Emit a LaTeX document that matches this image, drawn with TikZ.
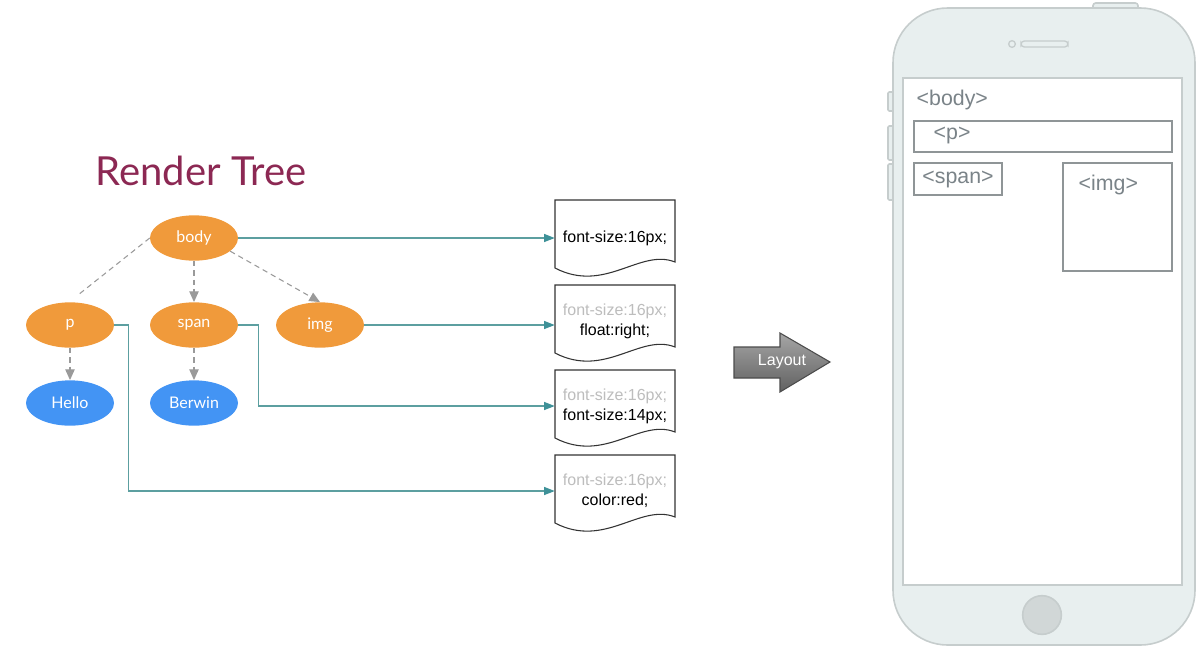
\documentclass[tikz,border=0pt]{standalone}
\usepackage{fontspec}
\setmainfont{Liberation Sans}
\newfontfamily\treefont{Lato}
\usepackage{tikz}
\usetikzlibrary{shapes.geometric, arrows.meta, positioning}
\definecolor{colorNode}{HTML}{F09A3B}
\definecolor{colorLeaf}{HTML}{4394F4}
\definecolor{colorTitle}{HTML}{8C2853}
\definecolor{colorLink}{HTML}{5C9FA0}
\definecolor{colorLinkTip}{HTML}{3E9198}
\definecolor{colorDash}{HTML}{9A9A9A}
\definecolor{colorPhone}{HTML}{E8EFEF}
\definecolor{colorPhoneLine}{HTML}{C6CDCD}
\definecolor{colorBox}{HTML}{8F9597}
\definecolor{colorBoxText}{HTML}{7A8388}
\definecolor{colorFaded}{HTML}{BDBDBD}

\begin{document}
\begin{tikzpicture}[x=0.75pt,y=-0.75pt,
    treenode/.style={ellipse,fill=colorNode,minimum width=66pt,minimum height=34pt,inner sep=0pt,text=white,font=\treefont\fontsize{12}{14}\selectfont},
    leaf/.style={treenode,fill=colorLeaf},
    dashlink/.style={colorDash,dash pattern=on 4pt off 3pt,line width=0.8pt},
    dashtip/.style={dashlink,-{Triangle[length=8pt,width=7pt]}},
    link/.style={colorLink,line width=1pt,-{Triangle[length=8pt,width=6pt,color=colorLinkTip]}},
    doctext/.style={minimum width=90pt,inner sep=0pt,align=center,font=\fontsize{12}{15}\selectfont},
    docline/.style={draw=black!80,line width=0.8pt,fill=white},
    phone/.style={colorPhoneLine,fill=colorPhone,line width=1.2pt},
    screenbox/.style={colorBox,line width=1pt},
    boxtext/.style={text=colorBoxText,font=\fontsize{16}{19}\selectfont}]
    \useasboundingbox (0,0) rectangle (1202,658);

    % render tree
    \node[text=colorTitle,font=\treefont\fontsize{30}{34}\selectfont] (title) at (201,171) {Render Tree};
    \node[treenode] (body) at (194,238) {body};
    \node[treenode] (p) at (70,325) {p};
    \node[treenode] (span) at (194,325) {span};
    \node[treenode] (img) at (320,325) {img};
    \node[leaf] (hello) at (70,403) {Hello};
    \node[leaf] (berwin) at (194,403) {Berwin};
    \coordinate (pend) at (78,295);

    \draw[dashlink] (body.west) -- (pend);
    \draw[dashtip] (body.south) -- (span.north);
    \draw[dashtip] (body.-20) -- (img.north);
    \draw[dashtip] (p.south) -- (hello.north);
    \draw[dashtip] (span.south) -- (berwin.north);

    % style sheets
    \foreach \t in {200,285,370,455}
        \draw[docline] (555,\t) -- (675,\t) -- (675,\t+62) .. controls (640,\t+48) and (605,\t+94) .. (555,\t+68) -- cycle;
    \node[doctext] (d1) at (615,238) {font-size:16px;};
    \node[doctext] (d2) at (615,321) {\textcolor{colorFaded}{font-size:16px;}\\float:right;};
    \node[doctext] (d3) at (615,406) {\textcolor{colorFaded}{font-size:16px;}\\font-size:14px;};
    \node[doctext] (d4) at (615,491) {\textcolor{colorFaded}{font-size:16px;}\\color:red;};

    \draw[link] (body.east) -- (body.east -| d1.west);
    \draw[link] (img.east) -- (img.east -| d2.west);
    \draw[link] (span.east) -- ++(20,0) |- (d3.west);
    \draw[link] (p.east) -- ++(14,0) |- (d4.west);

    % layout arrow
    \shade[top color=black!35,bottom color=black!62,draw=black!70,line width=0.8pt] (734,347) -- (780,347) -- (780,333) -- (830,362) -- (780,392) -- (780,378) -- (734,378) -- cycle;
    \node[text=white,font=\fontsize{12}{14}\selectfont] (layout) at (782,362) {Layout};

    % phone
    \draw[phone,rounded corners=2pt] (1093,3) rectangle (1138,12);
    \foreach \a/\b in {92/111,126/160,164/200}
        \draw[phone,rounded corners=1pt] (888,\a) rectangle (897,\b);
    \draw[phone,rounded corners=41pt] (893,8) rectangle (1195,645);
    \draw[phone,fill=white] (903,78) rectangle (1182,585);
    \draw[phone,line width=1pt] (1012,44) circle (2.5pt);
    \draw[phone,line width=1pt,rounded corners=2.5pt] (1021,41) rectangle (1068,47);
    \draw[phone,fill=black!10!colorPhone] (1042,615) circle (14.5pt);

    \node[boxtext,anchor=west] (bodylabel) at (912,100) {<body>};
    \draw[screenbox] (914,121) rectangle (1172,152);
    \node[boxtext,anchor=west] (plabel) at (929,135) {<p>};
    \draw[screenbox] (914,163) rectangle (1002,195);
    \node[boxtext] (spanlabel) at (958,179) {<span>};
    \draw[screenbox] (1063,163) rectangle (1172,271);
    \node[boxtext,anchor=west] (imglabel) at (1074,185) {<img>};
\end{tikzpicture}
\end{document}
